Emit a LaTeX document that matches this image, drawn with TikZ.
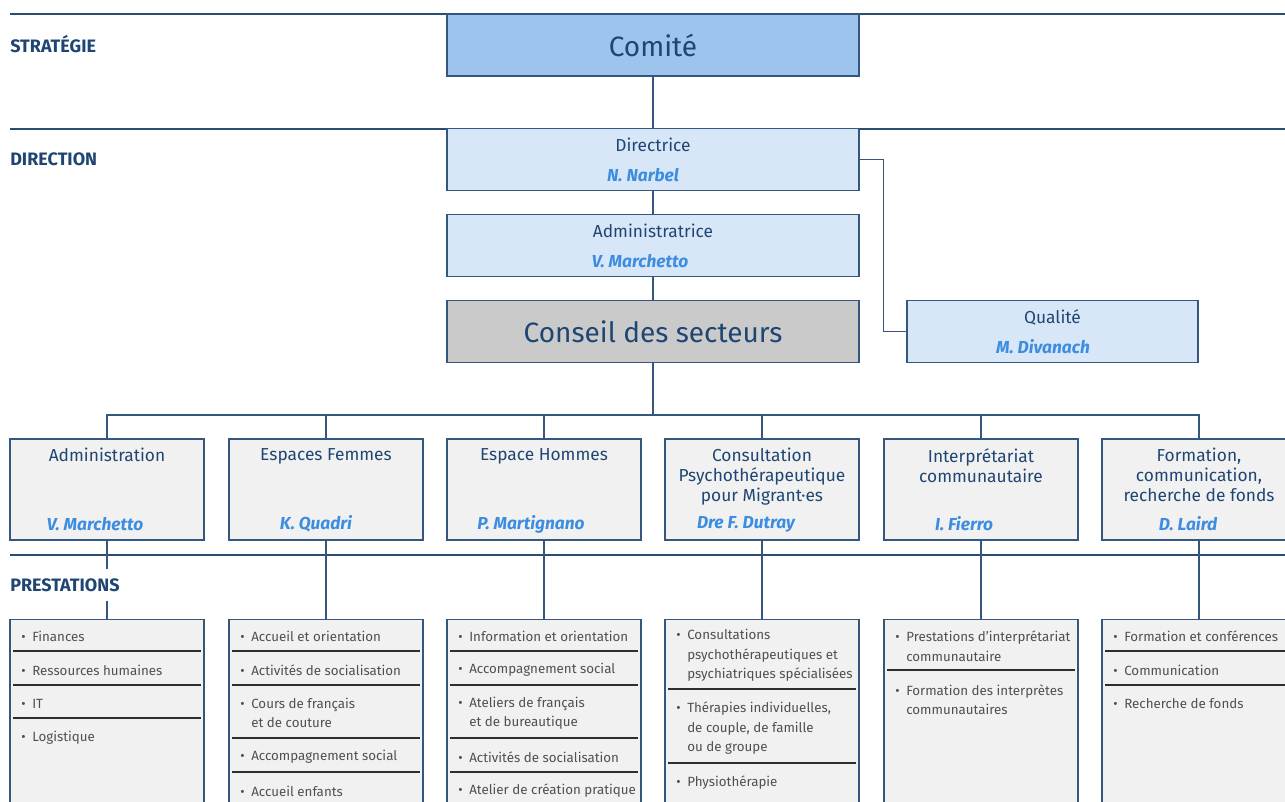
\documentclass[tikz,border=0pt]{standalone}
\usepackage{fontspec}
\setmainfont{Fira Sans}
\definecolor{headcol}{HTML}{1F4673}
\definecolor{rulecol}{HTML}{2A4D72}
\definecolor{boxline}{HTML}{35577D}
\definecolor{comfill}{HTML}{9DC4EC}
\definecolor{dirfill}{HTML}{D8E7F7}
\definecolor{csfill}{HTML}{CACACA}
\definecolor{secfill}{HTML}{F1F1F1}
\definecolor{namecol}{HTML}{3C8DE0}
\definecolor{itemcol}{HTML}{505050}
\definecolor{divcol}{HTML}{2E2E2E}
\newcommand{\itembul}{\makebox[8.25pt][l]{•}}
\newcommand{\itemind}{\hspace*{8.25pt}}

\begin{document}
\begin{tikzpicture}[x=0.75pt,y=-0.75pt]
  \tikzstyle{band}=[draw=rulecol,line width=1.1pt]
  \tikzstyle{wire}=[draw=boxline,line width=0.9pt]
  \tikzstyle{tier}=[anchor=west,inner sep=0pt,text=headcol,font=\bfseries\fontsize{13.5}{16}\selectfont]
  \tikzstyle{topbox}=[rectangle,draw=boxline,line width=0.9pt,minimum width=309pt,minimum height=46.5pt,inner sep=0pt]
  \tikzstyle{secbox}=[rectangle,draw=boxline,line width=0.9pt,fill=secfill,minimum width=145.5pt,minimum height=75.75pt,inner sep=0pt]
  \tikzstyle{listbox}=[rectangle,draw=boxline,line width=0.9pt,fill=secfill,minimum width=145.5pt,minimum height=160pt,inner sep=0pt,anchor=north]
  \tikzstyle{head}=[inner sep=0pt,text=headcol,align=center,font=\fontsize{13}{15}\selectfont]
  \tikzstyle{bigtext}=[inner sep=0pt,text=headcol,font=\fontsize{21}{25}\selectfont]
  \tikzstyle{who}=[inner sep=0pt,text=namecol,font=\bfseries\itshape\fontsize{13}{15}\selectfont]
  \tikzstyle{entry}=[anchor=west,inner sep=0pt,text=itemcol,align=left,font=\fontsize{10}{14.6}\selectfont]
  \tikzstyle{divider}=[draw=divcol,line width=0.8pt]

  \clip (0,0) rectangle (1285,801);

  % levels
  \draw[band] (10,14) -- (1285,14);
  \draw[band] (10,129) -- (1285,129);
  \draw[band] (10,555) -- (1285,555);
  \node[tier] (strat) at (10,44) {STRATÉGIE};
  \node[tier] (direc) at (10,159) {DIRECTION};

  % top of the chart
  \node[topbox,fill=comfill] (comite) at (653,45) {};
  \node[bigtext] (comiteT) at (653,45) {Comité};
  \node[topbox,fill=dirfill] (dir) at (653,159.5) {};
  \node[head] (dirT) at (653,145) {Directrice};
  \node[who] (dirN) at (643,175) {N. Narbel};
  \node[topbox,fill=dirfill] (adm) at (653,245.5) {};
  \node[head] (admT) at (653,231) {Administratrice};
  \node[who] (admN) at (640,261) {V. Marchetto};
  \node[topbox,fill=csfill] (cs) at (653,331.5) {};
  \node[bigtext] (csT) at (653,331.5) {Conseil des secteurs};
  \node[topbox,fill=dirfill,minimum width=218.25pt] (qual) at (1052.5,331.5) {};
  \node[head] (qualT) at (1052.5,317) {Qualité};
  \node[who] (qualN) at (1043,347) {M. Divanach};

  \draw[wire] (comite) -- (dir);
  \draw[wire] (dir) -- (adm);
  \draw[wire] (adm) -- (cs);
  \draw[wire] (dir.east) -- ++(24,0) |- (qual.west);

  % sectors
  \coordinate (bus) at (653,415);
  \node[secbox] (sec1) at (107,489.5) {};
  \node[secbox] (sec2) at (326,489.5) {};
  \node[secbox] (sec3) at (544,489.5) {};
  \node[secbox] (sec4) at (762,489.5) {};
  \node[secbox] (sec5) at (981,489.5) {};
  \node[secbox] (sec6) at (1199,489.5) {};
  \draw[wire] (cs) -- (bus);
  \draw[wire] (sec1.north) |- (bus);
  \draw[wire] (sec2.north) |- (bus);
  \draw[wire] (sec3.north) |- (bus);
  \draw[wire] (sec4.north) |- (bus);
  \draw[wire] (sec5.north) |- (bus);
  \draw[wire] (sec6.north) |- (bus);

  \node[head,anchor=north] (sec1T) at (107,448) {Administration};
  \node[head,anchor=north] (sec2T) at (326,448) {Espaces Femmes};
  \node[head,anchor=north] (sec3T) at (544,448) {Espace Hommes};
  \node[head,anchor=north] (sec4T) at (762,448) {Consultation\\Psychothérapeutique\\pour Migrant·es};
  \node[head,anchor=north] (sec5T) at (981,448) {Interprétariat\\communautaire};
  \node[head,anchor=north] (sec6T) at (1199,448) {Formation,\\communication,\\recherche de fonds};
  \node[who] (sec1N) at (95,524) {V. Marchetto};
  \node[who] (sec2N) at (316,524) {K. Quadri};
  \node[who] (sec3N) at (531,524) {P. Martignano};
  \node[who] (sec4N) at (746,524) {Dre F. Dutray};
  \node[who] (sec5N) at (964,524) {I. Fierro};
  \node[who] (sec6N) at (1188,524) {D. Laird};

  % prestations
  \node[listbox] (list1) at (107,619) {};
  \node[listbox] (list2) at (326,619) {};
  \node[listbox] (list3) at (544,619) {};
  \node[listbox] (list4) at (762,619) {};
  \node[listbox] (list5) at (981,619) {};
  \node[listbox] (list6) at (1199,619) {};
  \draw[wire] (sec1) -- (list1);
  \draw[wire] (sec2) -- (list2);
  \draw[wire] (sec3) -- (list3);
  \draw[wire] (sec4) -- (list4);
  \draw[wire] (sec5) -- (list5);
  \draw[wire] (sec6) -- (list6);
  \node[tier,fill=white,inner ysep=7pt] (prest) at (10,585) {PRESTATIONS};

  \node[entry] (p11) at (21,636) {\itembul Finances};
  \draw[divider] (13,651) -- (201,651);
  \node[entry] (p12) at (21,670) {\itembul Ressources humaines};
  \draw[divider] (13,685) -- (201,685);
  \node[entry] (p13) at (21,704) {\itembul IT};
  \draw[divider] (13,718) -- (201,718);
  \node[entry] (p14) at (21,738) {\itembul Logistique};

  \node[entry] (p21) at (240,636) {\itembul Accueil et orientation};
  \draw[divider] (232,651) -- (420,651);
  \node[entry] (p22) at (240,670) {\itembul Activités de socialisation};
  \draw[divider] (232,685) -- (420,685);
  \node[entry] (p23) at (240,713) {\itembul Cours de français\\\itemind et de couture};
  \draw[divider] (232,738) -- (420,738);
  \node[entry] (p24) at (240,757) {\itembul Accompagnement social};
  \draw[divider] (232,772) -- (420,772);
  \node[entry] (p25) at (240,791) {\itembul Accueil enfants};

  \node[entry] (p31) at (458,636) {\itembul Information et orientation};
  \draw[divider] (450,651) -- (638,651);
  \node[entry] (p32) at (458,670) {\itembul Accompagnement social};
  \draw[divider] (450,685) -- (638,685);
  \node[entry] (p33) at (458,713) {\itembul Ateliers de français\\\itemind et de bureautique};
  \draw[divider] (450,738) -- (638,738);
  \node[entry] (p34) at (458,757) {\itembul Activités de socialisation};
  \draw[divider] (450,772) -- (638,772);
  \node[entry] (p35) at (458,791) {\itembul Atelier de création pratique};

  \node[entry] (p41) at (676,655.5) {\itembul Consultations\\\itemind psychothérapeutiques et\\\itemind psychiatriques spécialisées};
  \draw[divider] (668,689) -- (856,689);
  \node[entry] (p42) at (676,728.5) {\itembul Thérapies individuelles,\\\itemind de couple, de famille\\\itemind ou de groupe};
  \draw[divider] (668,763) -- (856,763);
  \node[entry] (p43) at (676,783) {\itembul Physiothérapie};

  \node[entry] (p51) at (895,646) {\itembul Prestations d’interprétariat\\\itemind communautaire};
  \draw[divider] (887,670) -- (1075,670);
  \node[entry] (p52) at (895,699.5) {\itembul Formation des interprètes\\\itemind communautaires};

  \node[entry] (p61) at (1113,636) {\itembul Formation et conférences};
  \draw[divider] (1105,651) -- (1293,651);
  \node[entry] (p62) at (1113,670) {\itembul Communication};
  \draw[divider] (1105,685) -- (1293,685);
  \node[entry] (p63) at (1113,704) {\itembul Recherche de fonds};
\end{tikzpicture}
\end{document}
